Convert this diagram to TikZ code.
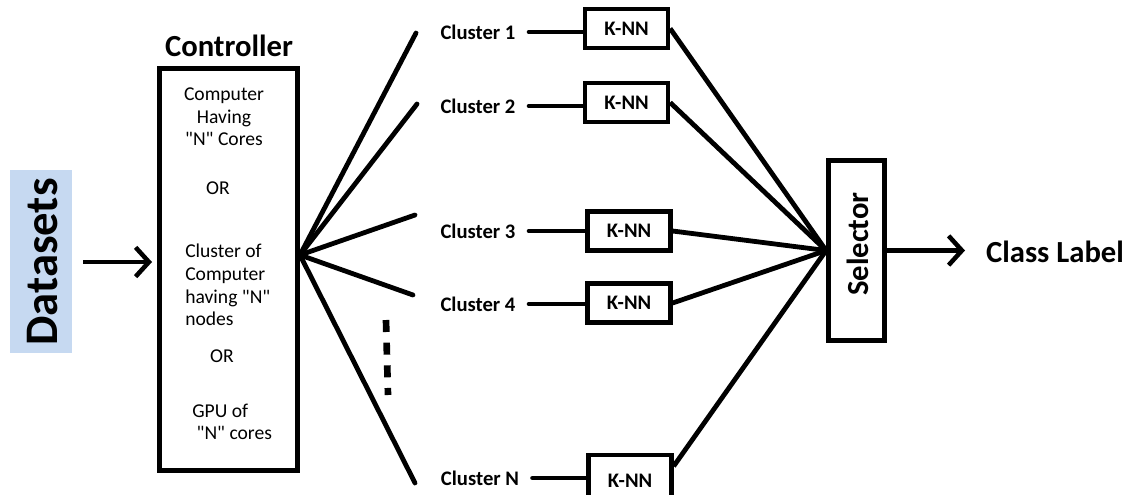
\documentclass[tikz,border=0pt]{standalone}
\usepackage{fontspec}
\setmainfont{Carlito}[Ligatures=TeXOff]
\usetikzlibrary{arrows.meta}
\definecolor{dsblue}{RGB}{198,217,241}
\begin{document}
\begin{tikzpicture}[x=0.75pt,y=-0.75pt,
  thickline/.style={line width=3.6pt},
  bigbox/.style={draw,line width=3.6pt,inner sep=0pt},
  knnbox/.style={draw,line width=3.2pt,minimum width=62.25pt,minimum height=29.25pt,inner sep=0pt,font=\bfseries\fontsize{15.5}{18}\selectfont},
  clabel/.style={font=\bfseries\fontsize{15.5}{18}\selectfont,inner sep=0pt},
  intext/.style={font=\fontsize{14.7}{17}\selectfont,inner sep=0pt},
  arr/.style={line width=3.4pt,-{Straight Barb[length=10pt,width=22pt,line width=3.4pt]}},
]
\useasboundingbox (0,0) rectangle (1129,494);

% Datasets
\node[fill=dsblue,minimum width=46.5pt,minimum height=137.25pt,inner sep=0pt] (ds) at (41,261.5) {};
\node[rotate=90,font=\bfseries\fontsize{35}{40}\selectfont,inner sep=0pt] (dstext) at (43,262) {Datasets};

% Controller
\node[bigbox,minimum width=103.5pt,minimum height=301.5pt] (ctrl) at (228.5,269.5) {};
\node[font=\bfseries\fontsize{23}{26}\selectfont,inner sep=0pt] (ctrltitle) at (229,46) {Controller};
\node[intext,align=center] (t1) at (224,117) {Computer\\Having\\"N" Cores};
\node[intext] (or1) at (218,188) {OR};
\node[intext,align=left,anchor=west] (t2) at (185,285) {Cluster of\\Computer\\having "N"\\nodes};
\node[intext] (or2) at (222,356) {OR};
\node[intext,align=left,anchor=west] (t3) at (192,422) {GPU of\\\ "N" cores};

\draw[arr] ([xshift=8.25pt]ds.east |- 0,262) coordinate (dsout) -- (152,262) coordinate (ctrlin);

% fan
\coordinate (fan) at (300,255);
\coordinate (f1) at (416,33);
\coordinate (f2) at (417,104);
\coordinate (f3) at (415,215);
\coordinate (f4) at (413,295);
\coordinate (f5) at (415,483);
\foreach \f in {f1,f2,f3,f4,f5} \draw[thickline,line cap=round] (fan) -- (\f);
\coordinate (d1) at (386,320);
\coordinate (d2) at (388,395);
\draw[line width=5pt,dash pattern=on 9pt off 8pt] (d1) -- (d2);

% clusters
\node[clabel] (c1) at (478,32) {Cluster 1};
\node[clabel] (c2) at (478,106) {Cluster 2};
\node[clabel] (c3) at (478,231) {Cluster 3};
\node[clabel] (c4) at (478,304) {Cluster 4};
\node[clabel] (c5) at (480,478) {Cluster N};

\node[knnbox] (k1) at (626.5,28.5) {K-NN};
\node[knnbox] (k2) at (626.5,102.5) {K-NN};
\node[knnbox] (k3) at (629,231) {K-NN};
\node[knnbox] (k4) at (629,303) {K-NN};
\node[knnbox,minimum height=45pt] (k5) at (630,485) {\raisebox{7pt}{K-NN}};

\foreach \i in {1,...,4}
  \draw[thickline,line cap=round,shorten <=10pt] (c\i.east) -- (c\i.east -| k\i.west);
\draw[thickline,line cap=round,shorten <=10pt] (c5.east) -- (c5.east -| k5.west);

% selector
\node[bigbox,minimum width=42pt,minimum height=135pt] (sel) at (856.5,250.5) {};
\node[rotate=90,font=\bfseries\fontsize{23}{26}\selectfont,inner sep=0pt] (seltext) at (858,244) {Selector};

\foreach \i in {1,...,4}
  \draw[thickline] (k\i.east) -- (sel.west);
\draw[thickline] ([yshift=-10pt]k5.north east) -- (sel.west);

% output
\node[font=\bfseries\fontsize{23}{26}\selectfont,inner sep=0pt] (cl) at (1055,252) {Class Label};
\draw[arr] (sel.east) -- (965,250.5) coordinate (clin);
\end{tikzpicture}
\end{document}
